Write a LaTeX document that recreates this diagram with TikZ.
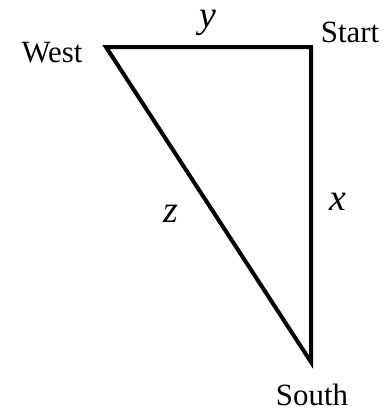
\documentclass[tikz,border=0pt]{standalone}
\usepackage{fontspec}
\setmainfont{Liberation Serif}
\begin{document}
\begin{tikzpicture}[x=1bp,y=-1bp,
  lbl/.style={font=\fontsize{31}{36}\selectfont, anchor=base, inner sep=0pt},
  var/.style={font=\fontsize{38}{44}\selectfont\itshape, anchor=base, inner sep=0pt, text height=0.46em},
  edge/.style={line width=4bp, line join=miter}]
\useasboundingbox (0,0) rectangle (386,412);
\coordinate (W) at (106,47);
\coordinate (S) at (311,47);
\coordinate (So) at (311,362);
\draw[edge] (W) -- (S) -- (So) -- cycle;
\node[lbl] (west) at (52,62) {West};
\node[lbl] (start) at (350,42) {Start};
\node[lbl] (south) at (312,405) {South};
\node[var] (y) at (208,27) {y};
\node[var] (x) at (338,210) {x};
\node[var] (z) at (171,222) {z};
\end{tikzpicture}
\end{document}
